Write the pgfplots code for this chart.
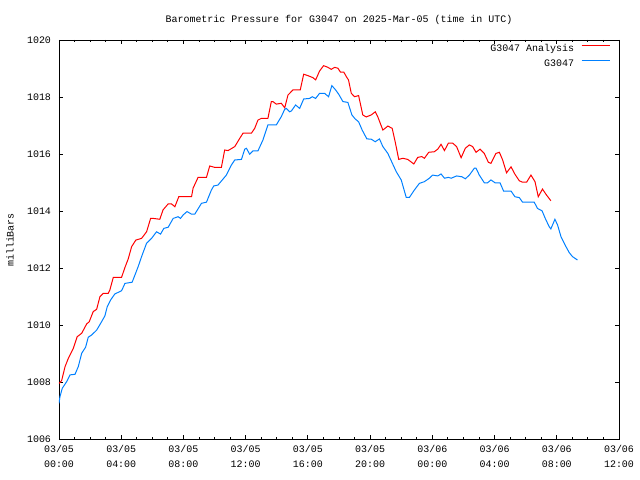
\documentclass[border=0pt]{standalone}
\usepackage{fontspec}
\setmainfont{Liberation Mono}
\usepackage{pgfplots}
\pgfplotsset{compat=1.18}
\definecolor{gred}{RGB}{255,0,0}
\definecolor{gblue}{RGB}{0,128,255}
\begin{document}
\begin{tikzpicture}[font=\fontsize{10}{12}\selectfont]
\useasboundingbox (-59bp,-41bp) rectangle (581bp,439bp);
\begin{axis}[
  at={(0,0)}, anchor=south west,
  scale only axis, width=560bp, height=399bp,
  xmin=0, xmax=36, ymin=1006, ymax=1020,
  xtick={0,4,...,36}, minor x tick num=3,
  ytick={1006,1008,...,1020},
  xticklabels={{03/05\\[3bp]00:00},{03/05\\[3bp]04:00},{03/05\\[3bp]08:00},{03/05\\[3bp]12:00},{03/05\\[3bp]16:00},{03/05\\[3bp]20:00},{03/06\\[3bp]00:00},{03/06\\[3bp]04:00},{03/06\\[3bp]08:00},{03/06\\[3bp]12:00}},
  tick align=inside, major tick length=4bp, minor tick length=2bp,
  axis line style={line width=0.8bp},
  every tick/.style={black, line width=0.8bp},
  /pgf/number format/assume math mode=true,
  /pgf/number format/1000 sep={},
  xticklabel style={align=center, yshift=-3bp},
  yticklabel style={xshift=-4.5bp},
  legend cell align=right,
  legend plot pos=right,
  legend style={draw=none, fill=none, at={(1,1)}, anchor=north east,
    xshift=-9bp, yshift=-5bp, inner sep=0pt, outer sep=0pt,
    nodes={inner sep=0pt, text height=7bp, text depth=2bp},
    row sep=6bp, column sep=7bp},
  legend image code/.code={\draw[#1] (0bp,3.5bp) -- (28bp,3.5bp);},
]
\addplot[gred, line width=1bp] coordinates {
(0,1007.95) (0.17,1008.05) (0.39,1008.54) (0.60,1008.83) (0.92,1009.18) (1.17,1009.59)
(1.46,1009.71) (1.78,1010.04) (1.94,1010.11) (2.20,1010.47) (2.42,1010.55) (2.63,1010.99)
(2.84,1011.11) (3.16,1011.11) (3.27,1011.23) (3.49,1011.67) (4.02,1011.67) (4.24,1012.02)
(4.45,1012.32) (4.67,1012.75) (4.94,1012.98) (5.31,1013.04) (5.63,1013.27) (5.89,1013.74)
(6.05,1013.74) (6.48,1013.71) (6.69,1014.04) (7.02,1014.25) (7.23,1014.25) (7.45,1014.15)
(7.70,1014.50) (8.52,1014.50) (8.62,1014.80) (8.94,1015.18) (9.48,1015.18) (9.69,1015.58)
(10.01,1015.53) (10.44,1015.53) (10.65,1016.14) (10.87,1016.12) (11.30,1016.26) (11.62,1016.55)
(11.83,1016.73) (12.37,1016.73) (12.58,1016.90) (12.79,1017.19) (13.01,1017.25) (13.43,1017.25)
(13.65,1017.84) (13.75,1017.84) (13.97,1017.75) (14.29,1017.78) (14.51,1017.62) (14.72,1018.07)
(14.83,1018.13) (15.04,1018.25) (15.51,1018.25) (15.73,1018.80) (16.00,1018.75) (16.32,1018.68)
(16.50,1018.60) (16.75,1018.91) (17.01,1019.10) (17.29,1019.04) (17.50,1018.97) (17.72,1019.04)
(17.93,1019.01) (18.10,1018.87) (18.31,1018.87) (18.50,1018.69) (18.61,1018.60) (18.79,1018.13)
(19.00,1018.01) (19.26,1018.05) (19.53,1017.37) (19.75,1017.30) (20.07,1017.37) (20.33,1017.48)
(20.49,1017.31) (20.82,1016.84) (21.14,1016.98) (21.42,1016.90) (21.63,1016.38) (21.84,1015.81)
(22.10,1015.85) (22.42,1015.81) (22.81,1015.65) (23.06,1015.88) (23.32,1015.91) (23.49,1015.85)
(23.77,1016.06) (24.13,1016.08) (24.35,1016.17) (24.56,1016.34) (24.78,1016.12) (25.03,1016.38)
(25.31,1016.38) (25.56,1016.26) (25.85,1015.87) (26.12,1016.20) (26.38,1016.32) (26.59,1016.26)
(26.81,1016.06) (27.07,1016.17) (27.34,1016.02) (27.60,1015.71) (27.77,1015.67) (28.09,1016.02)
(28.31,1016.06) (28.52,1015.79) (28.77,1015.34) (29.06,1015.55) (29.31,1015.29) (29.59,1015.06)
(29.80,1015.01) (30.06,1015.01) (30.34,1015.26) (30.60,1015.03) (30.81,1014.50) (31.08,1014.77)
(31.34,1014.56) (31.62,1014.36)
};
\addlegendentry{G3047 Analysis}
\addplot[gblue, line width=1bp] coordinates {
(0,1007.25) (0.06,1007.48) (0.21,1007.78) (0.49,1008.01) (0.71,1008.25) (1.03,1008.27)
(1.24,1008.54) (1.46,1009.01) (1.71,1009.22) (1.88,1009.57) (2.10,1009.65) (2.42,1009.82)
(2.68,1010.06) (2.95,1010.32) (3.10,1010.64) (3.32,1010.88) (3.59,1011.09) (4.02,1011.20)
(4.24,1011.46) (4.70,1011.50) (4.88,1011.75) (5.09,1012.05) (5.31,1012.40) (5.63,1012.87)
(5.95,1013.04) (6.27,1013.27) (6.53,1013.19) (6.74,1013.39) (7.02,1013.43) (7.34,1013.74)
(7.66,1013.80) (7.81,1013.74) (7.98,1013.86) (8.23,1013.98) (8.52,1013.89) (8.73,1013.89)
(9.16,1014.27) (9.48,1014.31) (9.80,1014.74) (9.95,1014.88) (10.22,1014.91) (10.76,1015.26)
(11.08,1015.61) (11.30,1015.79) (11.73,1015.81) (11.94,1016.17) (12.05,1016.20) (12.26,1015.99)
(12.47,1016.11) (12.79,1016.11) (13.11,1016.49) (13.43,1017.02) (13.97,1017.02) (14.29,1017.31)
(14.51,1017.57) (14.61,1017.60) (14.83,1017.48) (14.94,1017.51) (15.21,1017.72) (15.47,1017.60)
(15.73,1017.93) (16.11,1017.95) (16.28,1018.01) (16.50,1017.95) (16.75,1018.13) (17.07,1018.13)
(17.33,1018.01) (17.54,1018.40) (17.78,1018.25) (17.99,1018.09) (18.25,1017.84) (18.57,1017.81)
(18.83,1017.37) (19.04,1017.23) (19.26,1017.13) (19.49,1016.84) (19.79,1016.53) (20.07,1016.52)
(20.33,1016.43) (20.49,1016.49) (20.60,1016.53) (20.82,1016.26) (21.14,1016.02) (21.35,1015.77)
(21.68,1015.38) (22.00,1015.09) (22.32,1014.48) (22.53,1014.48) (22.85,1014.74) (23.17,1014.97)
(23.49,1015.03) (23.81,1015.15) (24.02,1015.26) (24.35,1015.23) (24.56,1015.30) (24.78,1015.15)
(25.03,1015.18) (25.21,1015.15) (25.56,1015.23) (25.91,1015.20) (26.12,1015.13) (26.38,1015.26)
(26.70,1015.50) (26.81,1015.50) (27.02,1015.26) (27.34,1014.99) (27.55,1014.99) (27.77,1015.09)
(28.03,1014.99) (28.35,1014.99) (28.58,1014.70) (29.06,1014.70) (29.31,1014.50) (29.59,1014.47)
(29.80,1014.31) (30.55,1014.31) (30.76,1014.09) (31.05,1014.01) (31.26,1013.74) (31.51,1013.45)
(31.62,1013.37) (31.88,1013.71) (32.05,1013.51) (32.27,1013.10) (32.59,1012.75) (32.80,1012.54)
(33.01,1012.40) (33.33,1012.28)
};
\addlegendentry{G3047}
\end{axis}
\node at (280bp,419bp) {Barometric Pressure for G3047 on 2025-Mar-05 (time in UTC)};
\node[rotate=90] at (-49bp,199bp) {milliBars};
\end{tikzpicture}
\end{document}
